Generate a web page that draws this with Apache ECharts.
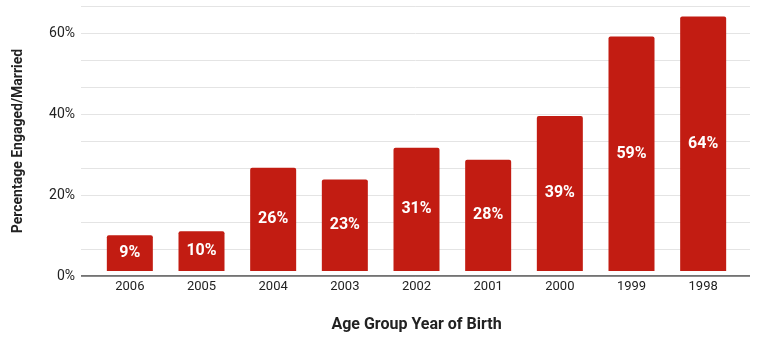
<!DOCTYPE html>
<html>
<head>
<meta charset="utf-8">
<script src="https://cdn.jsdelivr.net/npm/echarts@6/dist/echarts.min.js"></script>
<style>
  html, body { margin: 0; padding: 0; background: #fff; }
  #chart { width: 757px; height: 338px; }
</style>
</head>
<body>
<div id="chart"></div>
<script>
// Birth-year cohorts and share of each that is engaged or married (%)
const birthYears = ['2006', '2005', '2004', '2003', '2002', '2001', '2000', '1999', '1998'];
const engagedPct = [9, 10, 26, 23, 31, 28, 39, 59, 64];
const yTickLabels = ['0%', '20%', '40%', '60%'];

// gridlines every third of a labelled step (20%)
const step = 20 / 3;
const yMax = step * 10;
const barColor = '#c21c12';
const font = 'Roboto, "Liberation Sans", Arial, sans-serif';

const chart = echarts.init(document.getElementById('chart'));

chart.setOption({
  animation: false,
  textStyle: { fontFamily: font },
  grid: [
    // full-width grid carrying the gridlines and percent labels
    { left: 81, right: 7, top: 6, bottom: 62 },
    // narrower grid holding the bars
    { left: 94, right: 18, top: 6, bottom: 62 }
  ],
  xAxis: [
    {
      gridIndex: 0, type: 'value', min: 0, max: 1,
      show: false
    },
    {
      gridIndex: 1, type: 'category', data: birthYears,
      axisLine: { show: false },
      axisTick: { show: false },
      axisLabel: { color: '#222', fontSize: 13, margin: 9, fontFamily: font },
      name: 'Age Group Year of Birth',
      nameLocation: 'middle',
      nameGap: 46,
      nameTextStyle: { color: '#222', fontSize: 16, fontWeight: 'bold', fontFamily: font }
    }
  ],
  yAxis: [
    {
      gridIndex: 0, type: 'value', min: 0, max: yMax, interval: step,
      axisLine: { show: false },
      axisTick: { show: false },
      splitLine: { lineStyle: { color: '#e4e4e4', width: 1 } },
      axisLabel: {
        color: '#222', fontSize: 14, margin: 6, fontFamily: font,
        formatter: v => {
          const i = Math.round(v / step);
          return i % 3 === 0 ? yTickLabels[i / 3] : '';
        }
      },
      name: 'Percentage Engaged/Married',
      nameLocation: 'middle',
      nameGap: 56,
      nameRotate: 90,
      nameTextStyle: { color: '#222', fontSize: 14, fontWeight: 'bold', fontFamily: font }
    },
    {
      gridIndex: 1, type: 'value', min: 0, max: yMax,
      show: false
    }
  ],
  series: [
    {
      // baseline along the zero value
      type: 'line', xAxisIndex: 0, yAxisIndex: 0,
      data: [[0, 0], [1, 0]],
      symbol: 'none',
      lineStyle: { color: '#444', width: 1.5 },
      silent: true,
      z: 5
    },
    {
      type: 'bar', xAxisIndex: 1, yAxisIndex: 1,
      data: engagedPct,
      barWidth: 46,
      itemStyle: { color: barColor, borderRadius: [2, 2, 0, 0] },
      label: {
        show: true,
        position: 'inside',
        formatter: p => p.value + '%',
        color: '#fff',
        fontSize: 16,
        fontWeight: 'bold',
        fontFamily: font
      },
      z: 3
    }
  ]
});
</script>
</body>
</html>
